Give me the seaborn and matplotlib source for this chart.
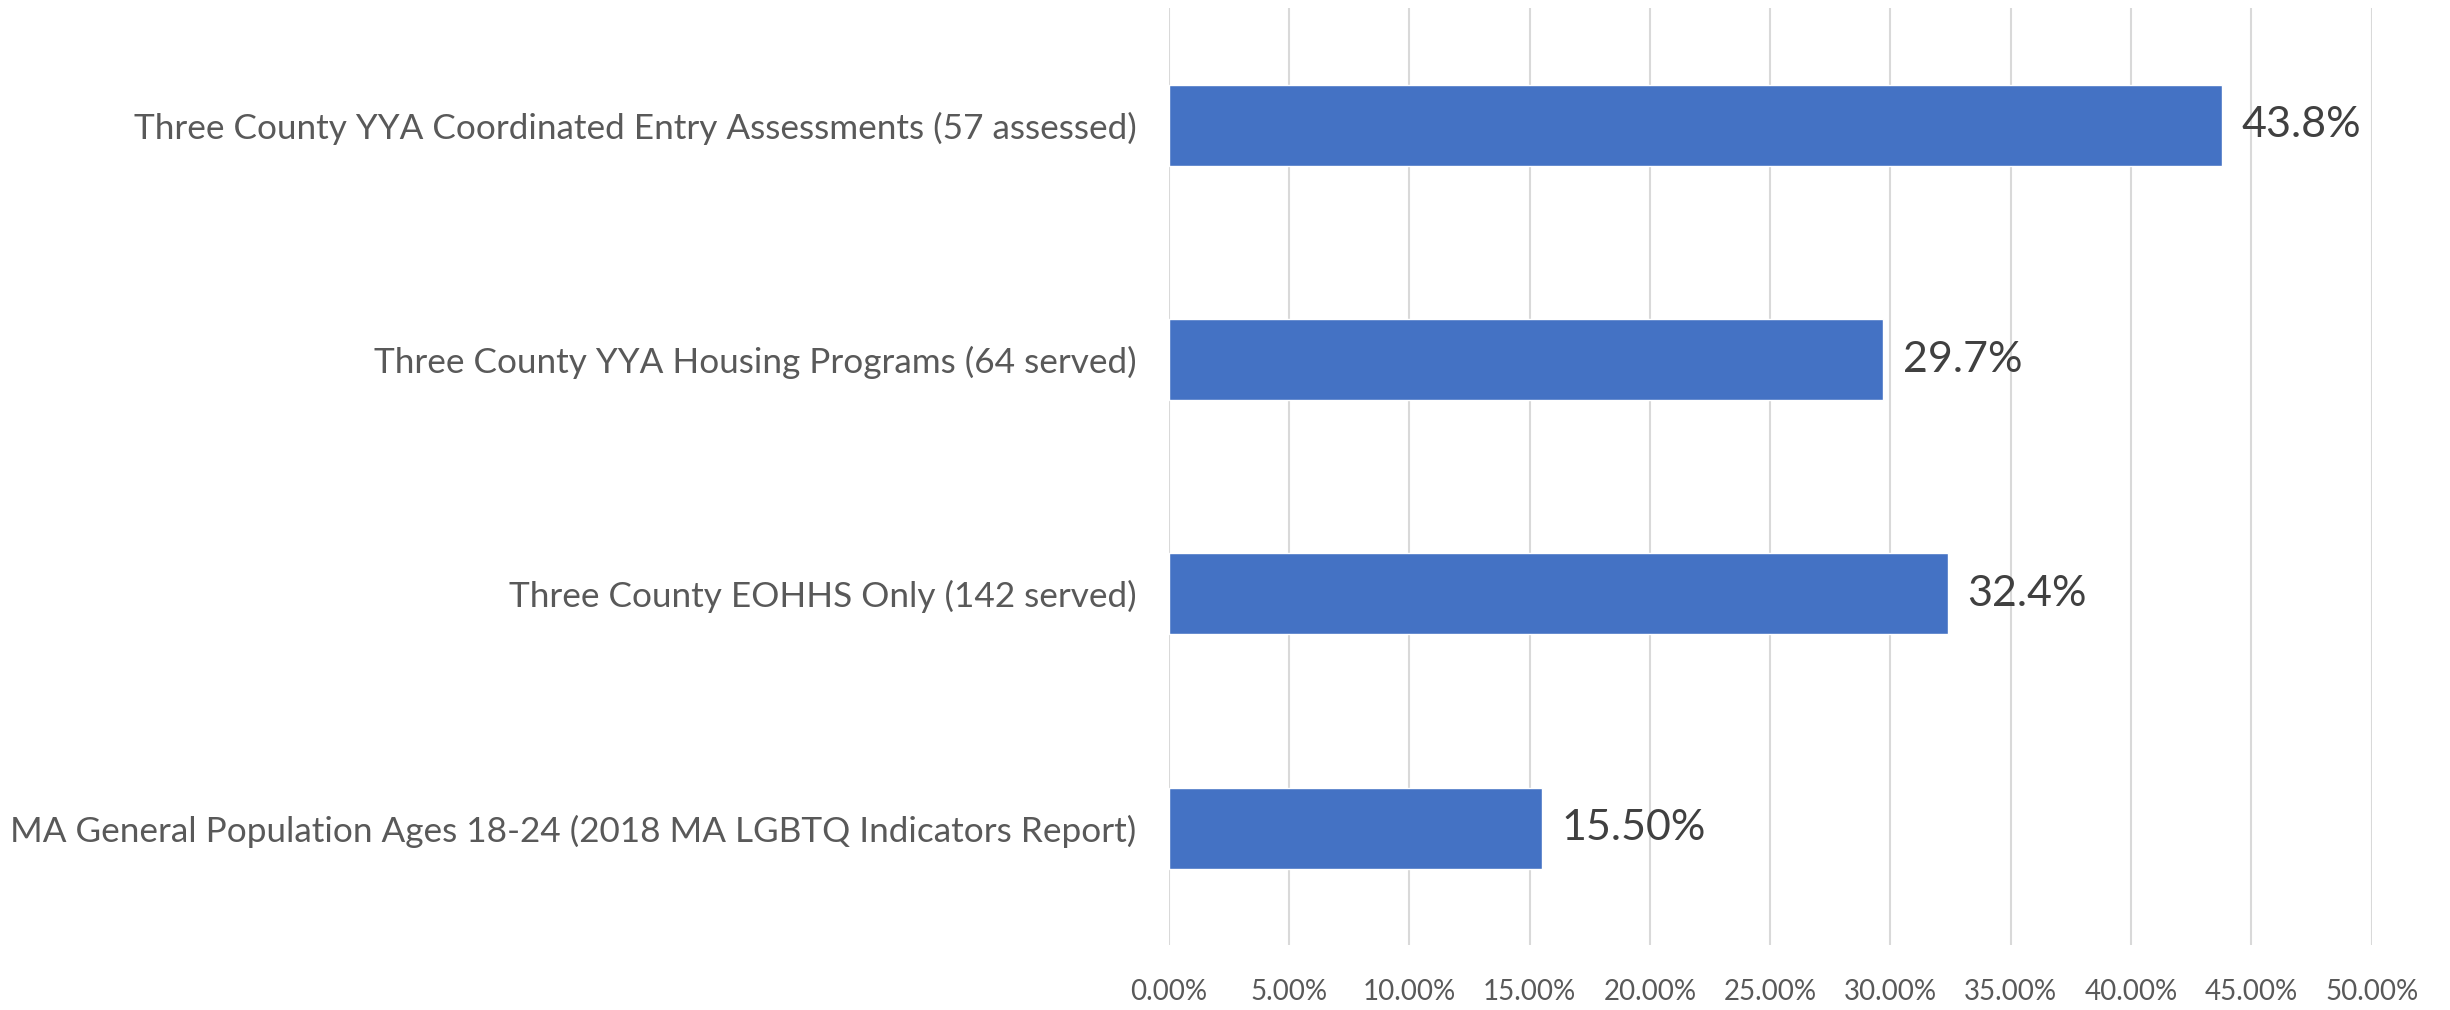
import matplotlib.pyplot as plt
import matplotlib.ticker as mtick
import pandas as pd
import seaborn as sns

categories = [
    "Three County YYA Coordinated Entry Assessments (57 assessed)",
    "Three County YYA Housing Programs (64 served)",
    "Three County EOHHS Only (142 served)",
    "MA General Population Ages 18-24 (2018 MA LGBTQ Indicators Report)",
]
shares = [43.8, 29.7, 32.4, 15.5]
value_labels = ["43.8%", "29.7%", "32.4%", "15.50%"]
x_ticks = [0, 5, 10, 15, 20, 25, 30, 35, 40, 45, 50]

df = pd.DataFrame({"group": categories, "share": shares})

sns.set_theme(style="white")
plt.rcParams["font.family"] = ["Lato", "DejaVu Sans"]

fig, ax = plt.subplots(figsize=(24.5, 10.1), dpi=100)
fig.subplots_adjust(left=0.477, right=0.968, top=0.992, bottom=0.064)

sns.barplot(data=df, x="share", y="group", orient="h", color="#4472C4",
            saturation=1, width=0.345, ax=ax)

ax.bar_label(ax.containers[0], labels=value_labels, padding=14,
             fontsize=31, color="#404040")

ax.set_xlim(0, 50)
ax.set_xticks(x_ticks)
ax.xaxis.set_major_formatter(mtick.FuncFormatter(lambda v, p: f"{v:.2f}%"))
ax.grid(axis="x", color="#d9d9d9", linewidth=1.5)
ax.set_axisbelow(True)
for s in ax.spines.values():
    s.set_visible(False)

ax.tick_params(axis="x", labelsize=20, labelcolor="#595959", pad=24, length=0)
ax.tick_params(axis="y", labelsize=25.3, labelcolor="#595959", pad=23, length=0)
ax.set_xlabel("")
ax.set_ylabel("")

fig.savefig("out.png", dpi=100)
